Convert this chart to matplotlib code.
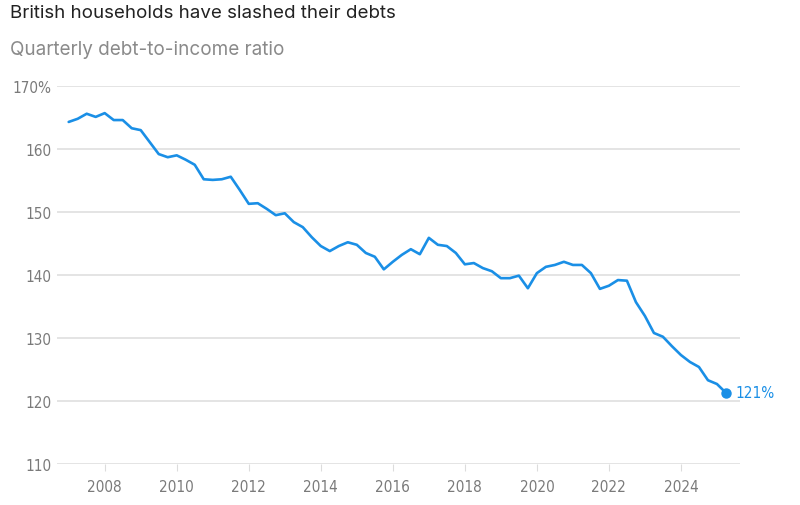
import matplotlib
matplotlib.use("Agg")
import matplotlib.pyplot as plt
import numpy as np

# quarterly household debt-to-income ratio, Q1 2007 .. Q2 2025
start_year = 2007
ratio = [
    164.3, 164.8, 165.6, 165.1, 165.7, 164.6, 164.6, 163.3,
    163.0, 161.1, 159.2, 158.7, 159.0, 158.3, 157.5, 155.2,
    155.1, 155.2, 155.6, 153.5, 151.3, 151.4, 150.5, 149.5,
    149.8, 148.4, 147.6, 146.0, 144.6, 143.8, 144.6, 145.2,
    144.8, 143.5, 142.9, 140.9, 142.1, 143.2, 144.1, 143.3,
    145.9, 144.8, 144.6, 143.5, 141.7, 141.9, 141.1, 140.6,
    139.5, 139.5, 139.9, 137.9, 140.3, 141.3, 141.6, 142.1,
    141.6, 141.6, 140.3, 137.8, 138.3, 139.2, 139.1, 135.7,
    133.5, 130.8, 130.2, 128.7, 127.3, 126.2, 125.4, 123.3,
    122.7, 121.3,
]
yticks = [110, 120, 130, 140, 150, 160, 170]
ytick_labels = ["110", "120", "130", "140", "150", "160", "170%"]
xticks = [2008, 2010, 2012, 2014, 2016, 2018, 2020, 2022, 2024]
end_label = "121%"

title = "British households have slashed their debts"
subtitle = "Quarterly debt-to-income ratio"

years = start_year + 0.25 * np.arange(len(ratio))

BLUE = "#1a8fe6"
GREY_TXT = "#7a7a7a"
GRID = "#dcdcdc"
narrow = ["Liberation Sans Narrow", "DejaVu Sans"]

fig = plt.figure(figsize=(8, 5.06), dpi=100)
ax = fig.add_axes([0.071, 0.081, 0.854, 0.747])

ax.plot(years, ratio, color=BLUE, linewidth=1.9, solid_joinstyle="round",
        solid_capstyle="round", zorder=3)
ax.plot(years[-1], ratio[-1], "o", color=BLUE, markersize=6.5, zorder=4)
ax.annotate(end_label, (years[-1], ratio[-1]), xytext=(7, 0),
            textcoords="offset points", va="center", ha="left",
            color=BLUE, fontsize=11, family=narrow, stretch="condensed")

ax.set_xlim(2006.67, 2025.64)
ax.set_ylim(110, 170)
ax.set_yticks(yticks)
ax.set_yticklabels(ytick_labels)
ax.set_xticks(xticks)

ax.grid(axis="y", color=GRID, linewidth=1.1)
ax.set_axisbelow(True)
for s in ax.spines.values():
    s.set_visible(False)

ax.tick_params(axis="y", length=0, pad=4, labelsize=11, labelcolor=GREY_TXT)
ax.tick_params(axis="x", length=5, width=0.8, color=GRID, pad=6,
               labelsize=11, labelcolor=GREY_TXT)
for lab in ax.get_xticklabels() + ax.get_yticklabels():
    lab.set_family(narrow)
    lab.set_stretch("condensed")

fig.text(0.0125, 0.974, title, fontsize=13.5, color="#222222",
         family=["Inter", "DejaVu Sans"], va="center", ha="left")
fig.text(0.0125, 0.901, subtitle, fontsize=13.6, color="#8a8a8a",
         family=["Inter", "DejaVu Sans"], va="center", ha="left")

fig.savefig("out.png", dpi=100)
